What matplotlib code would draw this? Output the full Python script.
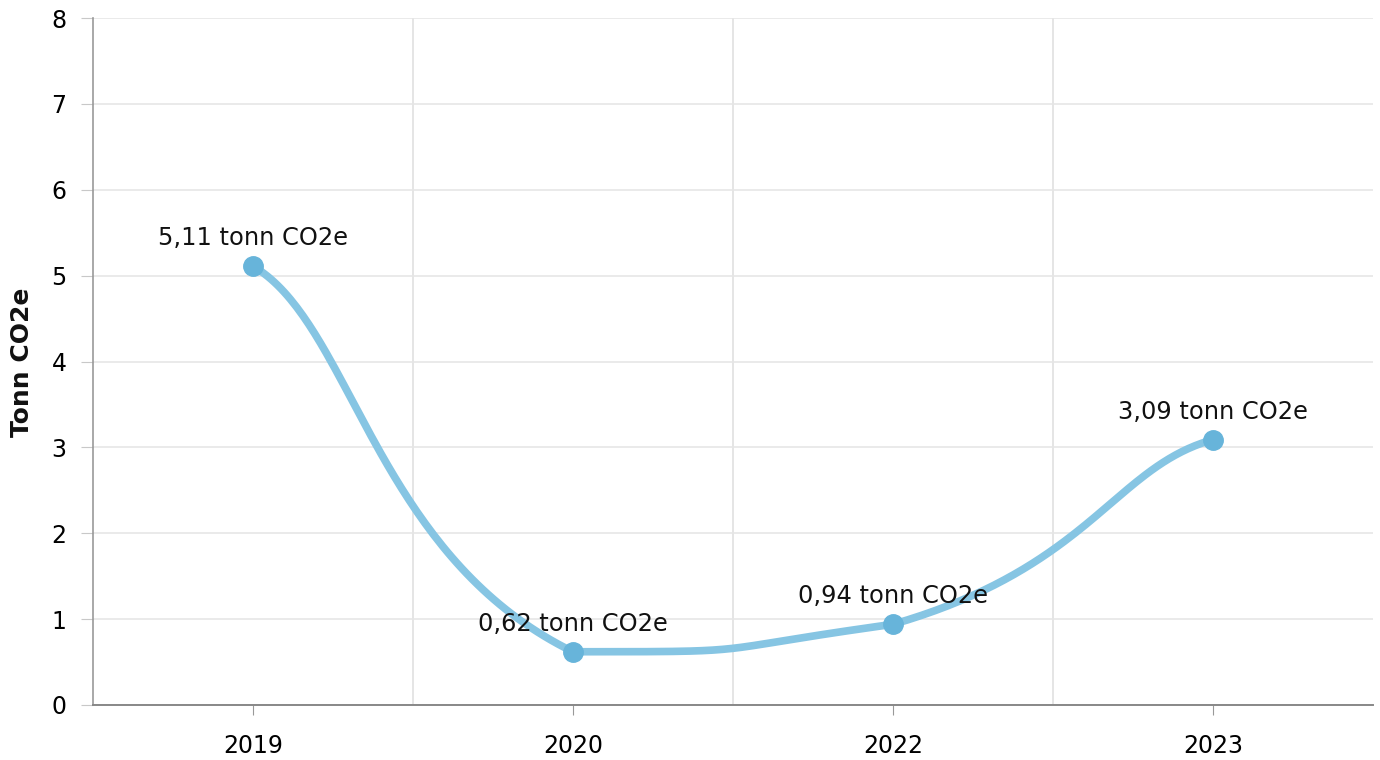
import matplotlib.pyplot as plt
import numpy as np

plt.rcParams['font.family'] = ['DejaVu Sans']

years = ['2019', '2020', '2022', '2023']
values = [5.11, 0.62, 0.94, 3.09]
labels = ['5,11 tonn CO2e', '0,62 tonn CO2e', '0,94 tonn CO2e', '3,09 tonn CO2e']

line_color = '#86c5e3'
marker_color = '#67b4da'


def smooth_path(xs, ys, kx=0.31, ky=0.27, ky_end=0.15, steps=80):
    # cardinal-like bezier spline, control points kept inside each segment's y range
    n = len(xs)
    left = [None] * n
    right = [None] * n
    for i in range(n):
        if i == 0:
            right[i] = (xs[0] + kx * (xs[1] - xs[0]), ys[0] + ky_end * (ys[1] - ys[0]))
        elif i == n - 1:
            left[i] = (xs[i] - kx * (xs[i] - xs[i - 1]), ys[i] - ky_end * (ys[i] - ys[i - 1]))
        else:
            dx = kx * (xs[i + 1] - xs[i - 1])
            dy = ky * (ys[i + 1] - ys[i - 1])
            left[i] = (xs[i] - dx, ys[i] - dy)
            right[i] = (xs[i] + dx, ys[i] + dy)
    t = np.linspace(0, 1, steps)[:, None]
    out_x, out_y = [], []
    for i in range(n - 1):
        lo, hi = min(ys[i], ys[i + 1]), max(ys[i], ys[i + 1])
        p0 = np.array([xs[i], ys[i]])
        p1 = np.array([right[i][0], np.clip(right[i][1], lo, hi)])
        p2 = np.array([left[i + 1][0], np.clip(left[i + 1][1], lo, hi)])
        p3 = np.array([xs[i + 1], ys[i + 1]])
        pts = (1 - t) ** 3 * p0 + 3 * (1 - t) ** 2 * t * p1 + 3 * (1 - t) * t ** 2 * p2 + t ** 3 * p3
        out_x.extend(pts[:, 0])
        out_y.extend(pts[:, 1])
    return out_x, out_y


fig = plt.figure(figsize=(13.8, 7.6), dpi=100)
ax = fig.add_axes([93 / 1380, 1 - 705 / 760, 1280 / 1380, 687 / 760])

x = np.arange(len(years))
sx, sy = smooth_path(list(x.astype(float)), values)
ax.plot(sx, sy, color=line_color, linewidth=5.5, solid_capstyle='round', zorder=3)
ax.plot(x, values, 'o', color=marker_color, markersize=14, zorder=4)

for xi, v, lab in zip(x, values, labels):
    ax.annotate(lab, (xi, v), xytext=(0, 15), textcoords='offset points',
                ha='center', va='baseline', fontsize=17.4, color='#111111')

ax.set_xlim(-0.5, len(years) - 0.5)
ax.set_ylim(0, 8)
ax.set_xticks(x)
ax.set_xticklabels(years)
ax.set_xticks(np.arange(0.5, len(years) - 1, 1), minor=True)
ax.set_yticks(range(0, 9))

ax.grid(True, axis='y', color='#e6e6e6', linewidth=1.2)
ax.grid(True, axis='x', which='minor', color='#e0e0e0', linewidth=1.2)
ax.set_axisbelow(True)

for s in ['top', 'right']:
    ax.spines[s].set_visible(False)
ax.spines['left'].set_color('#999999')
ax.spines['bottom'].set_color('#888888')
ax.spines['left'].set_linewidth(1.2)
ax.spines['bottom'].set_linewidth(1.4)

ax.tick_params(axis='y', which='major', length=9, color='#c8c8c8', labelsize=17, pad=10)
ax.tick_params(axis='x', which='major', length=7, color='#999999', labelsize=17, pad=14)
ax.tick_params(axis='x', which='minor', length=0)

fig.text(22 / 1380, 1 - 362 / 760, 'Tonn CO2e', rotation=90, ha='center', va='center',
         fontsize=18, fontweight='bold', color='#111111')

plt.savefig('out.png', dpi=100)
